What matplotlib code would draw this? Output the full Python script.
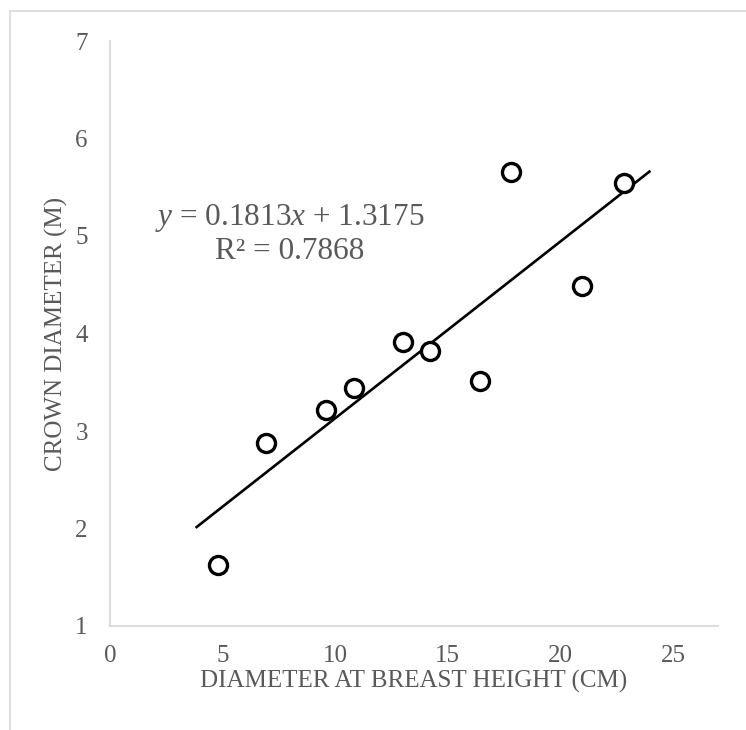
import numpy as np
import matplotlib
matplotlib.use("Agg")
import matplotlib.pyplot as plt
from matplotlib.lines import Line2D

# data
dbh = [4.81, 6.93, 9.58, 10.82, 13.03, 14.20, 16.44, 17.81, 20.94, 22.83]
crown = [1.63, 2.88, 3.22, 3.44, 3.91, 3.82, 3.51, 5.66, 4.49, 5.54]
slope, intercept = 0.1813, 1.3175
trend_x = [3.8, 24.0]
x_ticks = [0, 5, 10, 15, 20, 25]
y_ticks = [1, 2, 3, 4, 5, 6, 7]

plt.rcParams['font.family'] = ['Liberation Serif', 'DejaVu Serif']
plt.rcParams['mathtext.fontset'] = 'custom'
plt.rcParams['mathtext.rm'] = 'Liberation Serif'
plt.rcParams['mathtext.it'] = 'Liberation Serif:italic'
gray = '#595959'
spine = '#d9d9d9'

fig = plt.figure(figsize=(7.46, 7.30), dpi=100)
ax = fig.add_axes([110 / 746, 104 / 730, 608 / 746, 585 / 730])

tx = np.array(trend_x)
ax.plot(tx, slope * tx + intercept, color='black', lw=1.9, solid_capstyle='butt')
ax.plot(dbh, crown, 'o', ms=13, mfc='white', mec='black', mew=2.4, zorder=3)

ax.set_xlim(0, 27)
ax.set_ylim(1, 7)
ax.set_xticks(x_ticks)
ax.set_yticks(y_ticks)
ax.tick_params(length=0, labelsize=18, colors=gray, pad=14)
ax.tick_params(axis='y', pad=16)
for s in ['top', 'right']:
    ax.spines[s].set_visible(False)
for s in ['left', 'bottom']:
    ax.spines[s].set_color(spine)
    ax.spines[s].set_linewidth(1.3)

ax.set_xlabel('DIAMETER AT BREAST HEIGHT (CM)', fontsize=18, color=gray, labelpad=2)
ax.set_ylabel('CROWN DIAMETER (M)', fontsize=18, color=gray, labelpad=5)

ax.text(0.296, 0.697, r'$y$ = 0.1813$x$ + 1.3175', transform=ax.transAxes,
        fontsize=22.5, color=gray, ha='center', va='center')
ax.text(0.296, 0.641, 'R² = 0.7868', transform=ax.transAxes,
        fontsize=22.5, color=gray, ha='center', va='center')

# outer chart frame (cut off at right and bottom)
fig.add_artist(Line2D([10 / 746, 10 / 746], [0, 1 - 11 / 730], transform=fig.transFigure, color=spine, lw=1.2))
fig.add_artist(Line2D([10 / 746, 1], [1 - 11 / 730, 1 - 11 / 730], transform=fig.transFigure, color=spine, lw=1.2))

fig.savefig('out.png', dpi=100)
